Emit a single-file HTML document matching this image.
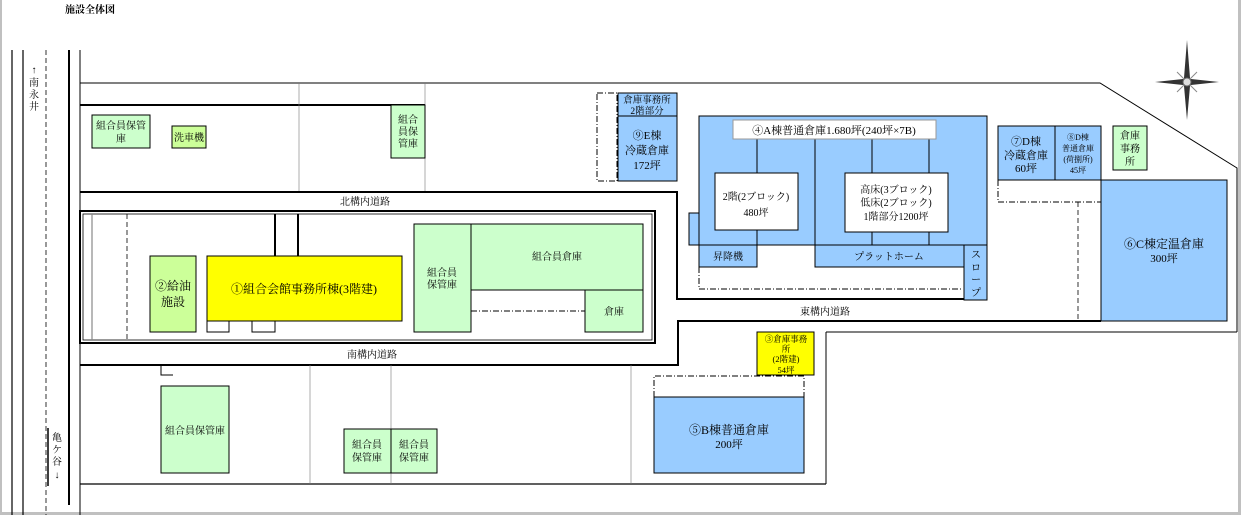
<!DOCTYPE html>
<html><head><meta charset="utf-8"><style>
html,body{margin:0;padding:0;background:#fff;}
svg{display:block;}
text{font-family:"Liberation Serif","Noto Serif CJK SC","Noto Sans CJK JP",serif;fill:#000;}
</style></head><body>
<svg width="1241" height="515" viewBox="0 0 1241 515" xmlns="http://www.w3.org/2000/svg">
<rect x="0" y="0" width="1241" height="515" fill="#fff"/>
<!-- page borders -->
<rect x="0" y="0" width="2" height="515" fill="#c0c0c0"/>
<rect x="1238" y="0" width="3" height="515" fill="#c0c0c0"/>
<rect x="0" y="512" width="1241" height="3" fill="#c0c0c0"/>
<text x="65" y="13" font-size="10" font-weight="bold">施設全体図</text>

<g stroke="#000" fill="none">
<!-- left roads -->
<line x1="12" y1="50" x2="12" y2="515" stroke-width="1.2"/>
<line x1="23" y1="50" x2="23" y2="515" stroke-width="1.2"/>
<line x1="46" y1="50" x2="46" y2="515" stroke-width="0.8" stroke-dasharray="5,3"/>
<line x1="69" y1="50" x2="69" y2="505" stroke-width="2"/>
<line x1="80" y1="50" x2="80" y2="515" stroke-width="1"/>
<line x1="48" y1="428" x2="48" y2="486" stroke-width="1.5"/>

<!-- top boundary -->
<polyline points="80,83 1100,83 1237,168 1237,332" stroke-width="1"/>
<line x1="80" y1="105" x2="425" y2="105" stroke-width="2"/>
<line x1="299" y1="83" x2="299" y2="192" stroke-width="0.6" stroke="#777"/>
<line x1="425" y1="83" x2="425" y2="192" stroke-width="0.6" stroke="#777"/>
<polyline points="80,192 677,192 677,299 964,299" stroke-width="2"/>

<!-- middle block double border -->
<rect x="80" y="211" width="575" height="132" stroke-width="2"/>
<rect x="83" y="214" width="569" height="126" stroke-width="0.8"/>
<line x1="92" y1="214" x2="92" y2="340" stroke-width="1.2" stroke="#888"/>
<line x1="127" y1="214" x2="127" y2="340" stroke-width="0.8" stroke-dasharray="5,3"/>
<line x1="275" y1="214" x2="275" y2="256" stroke-width="2"/>
<line x1="298" y1="214" x2="298" y2="256" stroke-width="2"/>

<!-- south -->
<polyline points="80,365 678,365 678,321 1101,321" stroke-width="2"/>
<line x1="826" y1="332" x2="1237" y2="332" stroke-width="1"/>
<line x1="826" y1="332" x2="826" y2="484" stroke-width="1"/>
<line x1="80" y1="484" x2="826" y2="484" stroke-width="1.2"/>
<line x1="310" y1="365" x2="310" y2="484" stroke-width="0.6" stroke="#777"/>
<line x1="391" y1="365" x2="391" y2="484" stroke-width="0.6" stroke="#777"/>
<line x1="631" y1="365" x2="631" y2="484" stroke-width="0.6" stroke="#777"/>
<polyline points="161,365 161,375 173,375" stroke-width="1"/>
</g>

<!-- North area boxes -->
<g stroke="#000" stroke-width="1">
<rect x="92" y="115" width="58" height="33" fill="#ccffcc"/>
<rect x="172" y="126" width="34" height="22" fill="#ccff99"/>
<rect x="391" y="105" width="34" height="53" fill="#ccffcc"/>
<rect x="597" y="93" width="20" height="88" fill="none" stroke-dasharray="6,2,1,2"/>
<rect x="618" y="93" width="59" height="23" fill="#99ccff"/>
<rect x="618" y="116" width="59" height="65" fill="#99ccff"/>
</g>
<g font-size="10" text-anchor="middle">
<text x="121" y="129">組合員保管</text><text x="121" y="142">庫</text>
<text x="189" y="141">洗車機</text>
<text x="408" y="123">組合</text><text x="408" y="135">員保</text><text x="408" y="147">管庫</text>
<text x="647" y="103" font-size="9.5">倉庫事務所</text><text x="647" y="114" font-size="9.5">2階部分</text>
<text x="647" y="139" font-size="11">⑨E棟</text><text x="647" y="154" font-size="11">冷蔵倉庫</text><text x="647" y="169" font-size="11">172坪</text>
<text x="365" y="205">北構内道路</text>
<text x="372" y="358">南構内道路</text>
<text x="825" y="315">東構内道路</text>
</g>

<!-- middle block contents -->
<g stroke="#000" stroke-width="1">
<rect x="150" y="256" width="46" height="76" fill="#ccff99"/>
<rect x="207" y="256" width="195" height="65" fill="#ffff00"/>
<rect x="207" y="321" width="22" height="11" fill="#fff"/>
<rect x="252" y="321" width="23" height="11" fill="#fff"/>
<rect x="414" y="224" width="57" height="108" fill="#ccffcc"/>
<rect x="471" y="224" width="172" height="66" fill="#ccffcc"/>
<rect x="585" y="290" width="58" height="42" fill="#ccffcc"/>
<line x1="471" y1="311" x2="585" y2="311" stroke-dasharray="6,2,1,2"/>
</g>
<g font-size="11" text-anchor="middle">
<text x="173" y="290" font-size="12">②給油</text><text x="173" y="306" font-size="12">施設</text>
<text x="304" y="293" font-size="12">①組合会館事務所棟(3階建)</text>
<text x="442" y="276" font-size="10">組合員</text><text x="442" y="288" font-size="10">保管庫</text>
<text x="557" y="260" font-size="10">組合員倉庫</text>
<text x="614" y="315" font-size="10">倉庫</text>
</g>

<!-- south contents -->
<g stroke="#000" stroke-width="1">
<rect x="161" y="386" width="68" height="87" fill="#ccffcc"/>
<rect x="344" y="429" width="47" height="44" fill="#ccffcc"/>
<rect x="391" y="429" width="46" height="44" fill="#ccffcc"/>
<rect x="757" y="332" width="57" height="43" fill="#ffff00"/>
<polyline points="654,397 654,376 804,376 804,397" fill="none" stroke-dasharray="6,2,1,2"/>
<rect x="654" y="397" width="150" height="76" fill="#99ccff"/>
</g>
<g font-size="10" text-anchor="middle">
<text x="195" y="434">組合員保管庫</text>
<text x="367" y="448">組合員</text><text x="367" y="461">保管庫</text>
<text x="414" y="448">組合員</text><text x="414" y="461">保管庫</text>
<text x="786" y="342" font-size="8.5">③倉庫事務</text><text x="786" y="352" font-size="8.5">所</text>
<text x="786" y="362" font-size="8.5">(2階建)</text><text x="786" y="373" font-size="8.5">54坪</text>
<text x="729" y="434" font-size="12">⑤B棟普通倉庫</text><text x="729" y="448" font-size="11">200坪</text>
</g>

<!-- A building -->
<g stroke="#000" stroke-width="1">
<rect x="689" y="213" width="10" height="32" fill="#99ccff"/>
<rect x="699" y="116" width="288" height="129" fill="#99ccff"/>
<line x1="757" y1="139" x2="757" y2="245"/>
<line x1="815" y1="139" x2="815" y2="245"/>
<line x1="872" y1="139" x2="872" y2="245"/>
<line x1="929" y1="139" x2="929" y2="245"/>
<rect x="733" y="120" width="203" height="19" fill="#fff" stroke="#999"/>
<rect x="715" y="173" width="83" height="57" fill="#fff"/>
<rect x="845" y="173" width="103" height="59" fill="#fff"/>
<rect x="699" y="245" width="58" height="22" fill="#99ccff"/>
<rect x="815" y="245" width="149" height="22" fill="#99ccff"/>
<rect x="964" y="245" width="23" height="55" fill="#99ccff"/>
<polyline points="699,267 699,289 962,289" fill="none" stroke-dasharray="6,2,1,2"/>
<line x1="757" y1="245" x2="757" y2="267"/>
</g>
<g font-size="10" text-anchor="middle">
<text x="834" y="134" font-size="11">④A棟普通倉庫1.680坪(240坪×7B)</text>
<text x="756" y="200">2階(2ブロック)</text><text x="756" y="216">480坪</text>
<text x="896" y="193">高床(3ブロック)</text><text x="896" y="206">低床(2ブロック)</text><text x="896" y="220">1階部分1200坪</text>
<text x="728" y="260">昇降機</text>
<text x="889" y="260">プラットホーム</text>
<text x="976" y="258">ス</text><text x="976" y="271">ロ</text><text x="976" y="283">ー</text><text x="976" y="296">プ</text>
</g>

<!-- D / C buildings -->
<g stroke="#000" stroke-width="1">
<rect x="998" y="126" width="57" height="54" fill="#99ccff"/>
<rect x="1055" y="126" width="46" height="54" fill="#99ccff"/>
<polyline points="998,180 998,202 1101,202" fill="none" stroke-dasharray="6,2,1,2"/>
<line x1="1078" y1="202" x2="1078" y2="321" stroke-dasharray="5,3" stroke-width="0.8"/>
<rect x="1113" y="126" width="34" height="44" fill="#ccffcc"/>
<rect x="1101" y="180" width="126" height="141" fill="#99ccff"/>
</g>
<g font-size="11" text-anchor="middle">
<text x="1026" y="145">⑦D棟</text><text x="1026" y="159">冷蔵倉庫</text><text x="1026" y="172">60坪</text>
<text x="1078" y="140" font-size="8">⑧D棟</text><text x="1078" y="151" font-size="8">普通倉庫</text><text x="1078" y="162" font-size="8">(荷捌所)</text><text x="1078" y="173" font-size="8">45坪</text>
<text x="1130" y="139" font-size="10">倉庫</text><text x="1130" y="152" font-size="10">事務</text><text x="1130" y="165" font-size="10">所</text>
<text x="1164" y="248" font-size="12">⑥C棟定温倉庫</text><text x="1164" y="262">300坪</text>
</g>

<!-- compass -->
<g transform="translate(1187,82)">
<polygon points="0,-42 3,-4 0,0 -3,-4" fill="#333"/>
<polygon points="0,38 3,4 0,0 -3,4" fill="#333"/>
<polygon points="-32,0 -4,-3 0,0 -4,3" fill="#333"/>
<polygon points="32,0 4,-3 0,0 4,3" fill="#333"/>
<g stroke="#888" stroke-width="1"><line x1="-10" y1="-10" x2="10" y2="10"/><line x1="-10" y1="10" x2="10" y2="-10"/></g>
<circle r="4" fill="#ddd" stroke="#666"/>
</g>

<!-- vertical road names -->
<g font-size="10" text-anchor="middle">
<text x="34" y="73">↑</text><text x="34" y="86">南</text><text x="34" y="98">永</text><text x="34" y="110">井</text>
<text x="57" y="441">亀</text><text x="57" y="453">ケ</text><text x="57" y="465">谷</text><text x="57" y="478">↓</text>
</g>
</svg>
</body></html>
